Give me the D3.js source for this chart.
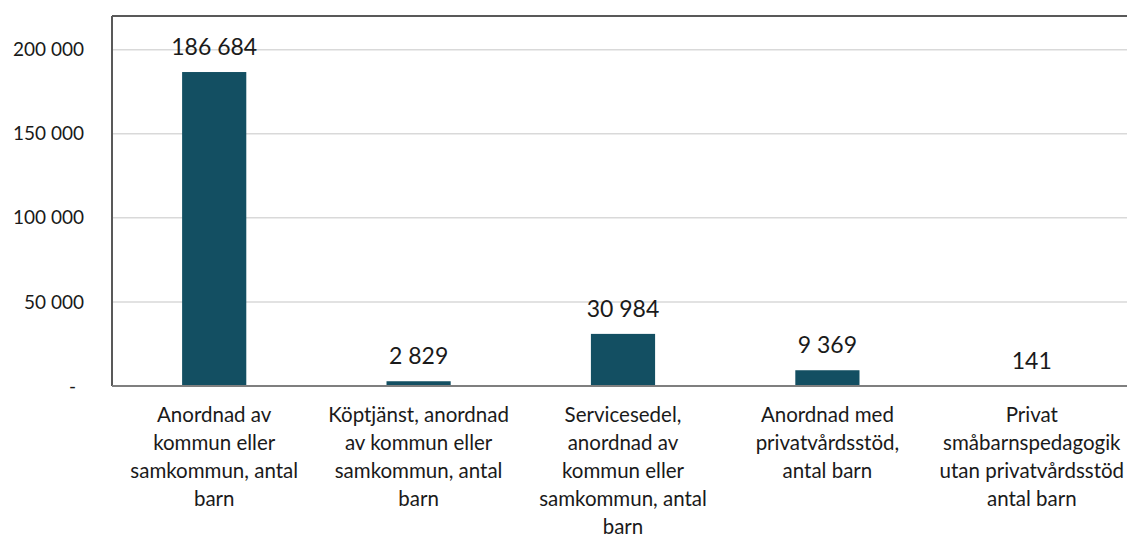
<!DOCTYPE html>
<html>
<head>
<meta charset="utf-8">
<script src="https://cdn.jsdelivr.net/npm/d3@7"></script>
<style>
  body { margin: 0; background: #fff; }
  text { font-family: Lato, "Open Sans", sans-serif; fill: #1a1a1a; }
</style>
</head>
<body>
<svg id="chart" width="1127" height="537"></svg>
<script>
const categories = [
  'Anordnad av\nkommun eller\nsamkommun, antal\nbarn',
  'Köptjänst, anordnad\nav kommun eller\nsamkommun, antal\nbarn',
  'Servicesedel,\nanordnad av\nkommun eller\nsamkommun, antal\nbarn',
  'Anordnad med\nprivatvårdsstöd,\nantal barn',
  'Privat\nsmåbarnspedagogik\nutan privatvårdsstöd\nantal barn',
];
const values = [186684, 2829, 30984, 9369, 141];
const yTicks = [0, 50000, 100000, 150000, 200000];

const BAR = '#134f62';
const margin = { top: 16, left: 112, bottom: 151 };
const plotWidth = 1022;
const height = 537 - margin.top - margin.bottom;

const svg = d3.select('#chart');
const g = svg.append('g')
  .attr('transform', `translate(${margin.left},${margin.top})`);

const locale = d3.formatLocale({ decimal: ',', thousands: '\u00a0', grouping: [3], currency: ['', ''] });
const fmt = locale.format(',d');

const x = d3.scaleBand()
  .domain(categories)
  .range([0, plotWidth])
  .paddingInner(0.686)
  .paddingOuter(0.343);

const y = d3.scaleLinear()
  .domain([0, 220000])
  .range([height, 0]);

// gridlines
g.append('g')
  .selectAll('line')
  .data(yTicks.filter(d => d > 0))
  .join('line')
  .attr('x1', 0)
  .attr('x2', plotWidth)
  .attr('y1', d => y(d))
  .attr('y2', d => y(d))
  .attr('stroke', '#d9d9d9')
  .attr('stroke-width', 1.5);

// y axis labels
const yAxis = d3.axisLeft(y)
  .tickValues(yTicks)
  .tickSize(0)
  .tickPadding(28)
  .tickFormat(d => d === 0 ? '-' : fmt(d));
const yAxisEl = g.append('g').call(yAxis);
yAxisEl.select('.domain').remove();
yAxisEl.selectAll('text')
  .style('font-family', 'Lato, sans-serif')
  .style('font-size', '19px')
  .style('fill', '#1a1a1a');
yAxisEl.selectAll('.tick')
  .filter(d => d === 0)
  .select('text')
  .attr('x', -36);

// bars
g.selectAll('.bar')
  .data(values)
  .join('rect')
  .attr('class', 'bar')
  .attr('x', (d, i) => x(categories[i]))
  .attr('width', x.bandwidth())
  .attr('y', d => y(d))
  .attr('height', d => height - y(d))
  .attr('fill', BAR);

// value labels
g.selectAll('.label')
  .data(values)
  .join('text')
  .attr('class', 'label')
  .attr('x', (d, i) => x(categories[i]) + x.bandwidth() / 2)
  .attr('y', d => y(d) - 17)
  .attr('text-anchor', 'middle')
  .style('font-size', '23px')
  .text(d => fmt(d));

// frame: top and left
g.append('line')
  .attr('x1', 0).attr('x2', plotWidth)
  .attr('y1', 0).attr('y2', 0)
  .attr('stroke', '#595959').attr('stroke-width', 2);
g.append('line')
  .attr('x1', 0).attr('x2', 0)
  .attr('y1', 0).attr('y2', height)
  .attr('stroke', '#595959').attr('stroke-width', 2);
// baseline
g.append('line')
  .attr('x1', 0).attr('x2', plotWidth)
  .attr('y1', height).attr('y2', height)
  .attr('stroke', '#7f7f7f').attr('stroke-width', 2);

// category labels
const cat = g.append('g')
  .selectAll('text')
  .data(categories)
  .join('text')
  .attr('x', d => x(d) + x.bandwidth() / 2)
  .attr('y', height + 36)
  .attr('text-anchor', 'middle')
  .style('font-size', '20.5px');
cat.selectAll('tspan')
  .data(d => d.split('\n'))
  .join('tspan')
  .attr('x', function () { return this.parentNode.getAttribute('x'); })
  .attr('dy', (d, i) => i === 0 ? 0 : 28)
  .text(d => d);
</script>
</body>
</html>
